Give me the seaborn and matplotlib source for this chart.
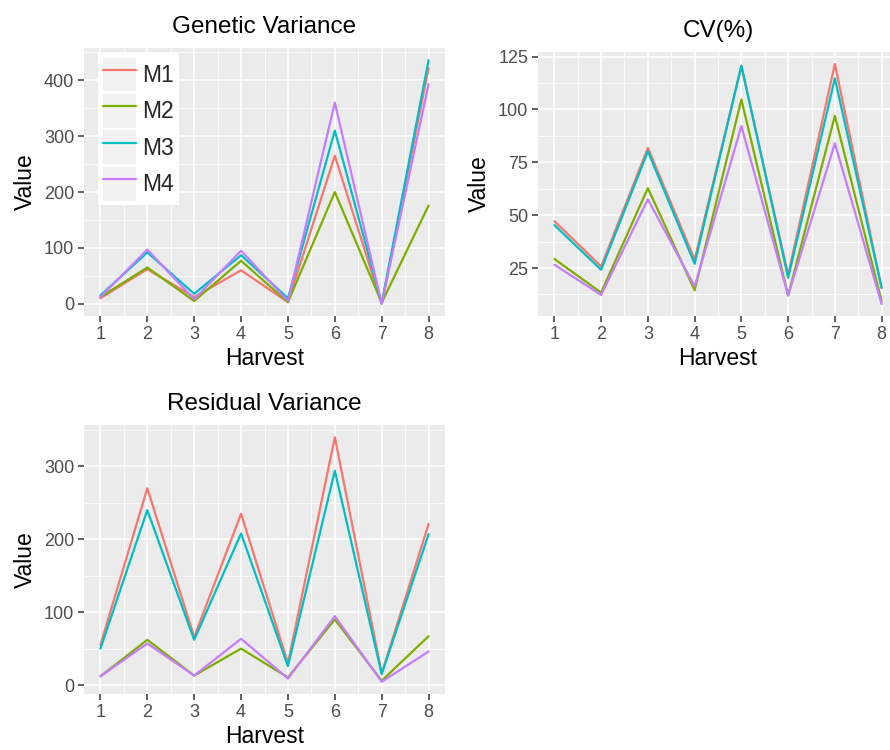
import numpy as np
import pandas as pd
import matplotlib
matplotlib.use("Agg")
import matplotlib.pyplot as plt
import seaborn as sns
from matplotlib.legend_handler import HandlerLine2D
from matplotlib.patches import Rectangle
from matplotlib.ticker import MultipleLocator

# ---- data -------------------------------------------------------------
harvest = [1, 2, 3, 4, 5, 6, 7, 8]
methods = ["M1", "M2", "M3", "M4"]

genetic_m1 = [10, 62, 12, 60, 3, 265, 0, 422]
genetic_m2 = [12, 65, 5, 77, 3, 200, 2, 176]
genetic_m3 = [15, 92, 18, 87, 10, 310, 1, 436]
genetic_m4 = [12, 97, 8, 95, 5, 360, 0, 393]

cv_m1 = [47.2, 25.8, 81.8, 29.0, 120.7, 21.8, 121.5, 15.5]
cv_m2 = [29.3, 13.4, 62.8, 14.5, 104.7, 12.0, 97.0, 9.3]
cv_m3 = [45.3, 24.2, 80.2, 27.0, 120.7, 20.4, 114.7, 15.6]
cv_m4 = [26.6, 12.3, 57.5, 16.3, 92.1, 12.1, 84.0, 8.0]

resid_m1 = [55, 270, 66, 235, 30, 340, 16, 221]
resid_m2 = [12, 62, 13, 50, 10.5, 90, 6, 67]
resid_m3 = [50, 240, 62, 208, 26, 294, 15, 207]
resid_m4 = [12, 57, 13, 63.5, 9, 94.5, 4.5, 46]

panels = {
    "Genetic Variance": [genetic_m1, genetic_m2, genetic_m3, genetic_m4],
    "CV(%)": [cv_m1, cv_m2, cv_m3, cv_m4],
    "Residual Variance": [resid_m1, resid_m2, resid_m3, resid_m4],
}

def long_frame(series):
    rows = []
    for m, vals in zip(methods, series):
        for h, v in zip(harvest, vals):
            rows.append({"Harvest": h, "Value": v, "Method": m})
    return pd.DataFrame(rows)

# ---- style ------------------------------------------------------------
sns.set_style("white")
plt.rcParams["font.family"] = ["Liberation Sans", "DejaVu Sans"]
palette = dict(zip(methods, ["#F8766D", "#7CAE00", "#00BFC4", "#C77CFF"]))

W, H = 890, 750
fig = plt.figure(figsize=(W / 100, H / 100), dpi=100)

def px_axes(left, top, right, bottom):
    return fig.add_axes([left / W, 1 - bottom / H, (right - left) / W, (bottom - top) / H])

axes = {
    "Genetic Variance": px_axes(84, 48, 445, 316),
    "CV(%)": px_axes(538, 52, 898, 316),
    "Residual Variance": px_axes(84, 425, 445, 694),
}
y_major = {"Genetic Variance": 100, "CV(%)": 25, "Residual Variance": 100}

for name, ax in axes.items():
    df = long_frame(panels[name])
    sns.lineplot(data=df, x="Harvest", y="Value", hue="Method", palette=palette,
                 linewidth=1.6, ax=ax, legend=(name == "Genetic Variance"))
    ax.set_facecolor("#EBEBEB")
    for s in ax.spines.values():
        s.set_visible(False)
    # ggplot-like 5% expansion
    ax.set_xlim(1 - 0.35, 8 + 0.35)
    vals = np.concatenate(panels[name])
    lo, hi = vals.min(), vals.max()
    pad = 0.05 * (hi - lo)
    ax.set_ylim(lo - pad, hi + pad)
    ax.xaxis.set_major_locator(MultipleLocator(1))
    ax.xaxis.set_minor_locator(MultipleLocator(0.5))
    step = y_major[name]
    ax.yaxis.set_major_locator(MultipleLocator(step))
    ax.yaxis.set_minor_locator(MultipleLocator(step / 2))
    ax.grid(which="major", color="white", linewidth=1.2)
    ax.grid(which="minor", color="white", linewidth=0.6)
    ax.set_axisbelow(True)
    ax.tick_params(which="major", length=4, width=1.1, color="#333333",
                   labelsize=13, labelcolor="#4D4D4D", pad=3, bottom=True, left=True)
    ax.tick_params(which="minor", length=0)
    ax.set_title(name, fontsize=17.5, pad=11, color="black")
    ax.set_xlabel("Harvest", fontsize=16.5, labelpad=3, color="black")
    ax.set_ylabel("Value", fontsize=16.5, labelpad=5, color="black")


class KeyHandler(HandlerLine2D):
    """Line key drawn on a light grey square, ggplot style."""
    def create_artists(self, legend, orig_handle, xdescent, ydescent,
                       width, height, fontsize, trans):
        bg = Rectangle((-xdescent, -ydescent), width, height,
                       facecolor="#F2F2F2", edgecolor="none", transform=trans)
        arts = super().create_artists(legend, orig_handle, xdescent, ydescent,
                                      width, height, fontsize, trans)
        return [bg] + list(arts)


gax = axes["Genetic Variance"]
handles, labels = gax.get_legend_handles_labels()
for hnd in handles:
    hnd.set_linewidth(1.6)
gax.legend(handles, labels, loc="upper left",
           bbox_to_anchor=(98 / W, 1 - 53 / H), bbox_transform=fig.transFigure,
           borderaxespad=0, fontsize=16.5, frameon=True, facecolor="white",
           edgecolor="none", framealpha=1, fancybox=False,
           handlelength=1.45, handleheight=1.9, labelspacing=0.11,
           handletextpad=0.28, borderpad=0.2,
           handler_map={matplotlib.lines.Line2D: KeyHandler()})

fig.savefig("out.png", dpi=100, facecolor="white")
